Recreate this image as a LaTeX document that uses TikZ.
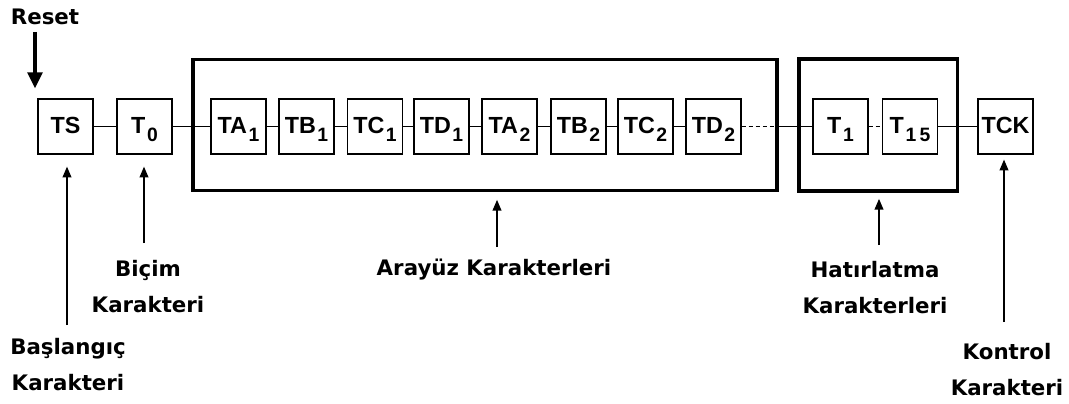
\documentclass[tikz,border=0pt]{standalone}
\usepackage{fontspec}
\setmainfont{DejaVu Sans}
\newfontfamily\cellfont{Liberation Sans}
\usetikzlibrary{arrows.meta}
% lowered index digits inside a cell
\newcommand\idx[1]{\kern1.2pt\raisebox{-6pt}{\fontsize{14.5}{14.5}\selectfont #1}}

\begin{document}
\begin{tikzpicture}[x=0.75pt,y=-0.75pt,
  cell/.style={draw, line width=0.9pt, minimum width=41.25pt, minimum height=41.25pt,
    inner sep=0pt, font=\cellfont\bfseries\fontsize{17.5}{17.5}\selectfont,
    text height=12.5pt, text depth=2.5pt},
  frame/.style={draw, line width=2.8pt, inner sep=0pt},
  link/.style={line width=0.9pt},
  dots/.style={link, dash pattern=on 3.4pt off 1.9pt},
  label/.style={font=\bfseries\fontsize{16}{27}\selectfont, align=center,
    anchor=base, inner sep=0pt},
  pointer/.style={line width=1.1pt, -{Triangle[length=8pt,width=6.5pt]}},
]
\useasboundingbox (0,0) rectangle (1069,403);

% grouping frames
\node[frame, minimum width=438pt, minimum height=98.25pt] (arayuz) at (485,125) {};
\node[frame, minimum width=118.9pt, minimum height=99pt] (hatirla) at (878.25,125) {};

% character cells
\node[cell] (TS)  at (65.5,126.5)  {TS};
\node[cell] (T0)  at (144.5,126.5) {T\idx{0}};
\node[cell] (TA1) at (238.5,126.5) {TA\idx{1}};
\node[cell] (TB1) at (306.5,126.5) {TB\idx{1}};
\node[cell] (TC1) at (375,126.5)   {TC\idx{1}};
\node[cell] (TD1) at (441.5,126.5) {TD\idx{1}};
\node[cell] (TA2) at (509.5,126.5) {TA\idx{2}};
\node[cell] (TB2) at (578.5,126.5) {TB\idx{2}};
\node[cell] (TC2) at (645.5,126.5) {TC\idx{2}};
\node[cell] (TD2) at (713.5,126.5) {TD\idx{2}};
\node[cell] (T1)  at (840.5,126.5) {T\idx{1}};
\node[cell] (T15) at (910,126.5)   {T\idx{1\kern2.5pt 5}};
\node[cell] (TCK) at (1005.5,126.5) {TCK};

% chain links
\draw[link] (TS) -- (T0);
\draw[link] (T0) -- (TA1);
\draw[link] (TA1) -- (TB1);
\draw[link] (TB1) -- (TC1);
\draw[link] (TC1) -- (TD1);
\draw[link] (TD1) -- (TA2);
\draw[link] (TA2) -- (TB2);
\draw[link] (TB2) -- (TC2);
\draw[link] (TC2) -- (TD2);
\draw[dots] (TD2) -- (TD2 -| arayuz.east);
\draw[link] (TD2 -| arayuz.east) -- (T1);
\draw[dots] (T1) -- (T15);
\draw[link] (T15) -- (TCK);

% reset input
\node[label] (reset) at (45,25) {Reset};
\coordinate (resetTail) at (35,32);
\draw[line width=2.6pt, -{Triangle[length=12pt,width=11pt]}, shorten >=7.5pt]
  (resetTail) -- (resetTail |- TS.north);

% captions (base = baseline of the last line)
\node[label] (bicim)     at (148,312) {Biçim\\Karakteri};
\node[label] (baslangic) at (68,390)  {Başlangıç\\Karakteri};
\node[label] (arayuzlbl) at (494,275) {Arayüz Karakterleri};
\node[label] (hatirlbl)  at (875,313) {Hatırlatma\\Karakterleri};
\node[label] (kontrol)   at (1007,395) {Kontrol\\Karakteri};

% caption pointers
\coordinate (pTS)  at (67,325);
\coordinate (pT0)  at (144,243);
\coordinate (pAr)  at (497,247);
\coordinate (pHa)  at (879,245);
\coordinate (pTCK) at (1004,322);
\draw[pointer, shorten >=9pt]   (pTS)  -- (pTS |- TS.south);
\draw[pointer, shorten >=9pt]   (pT0)  -- (pT0 |- T0.south);
\draw[pointer, shorten >=5.6pt] (pAr)  -- (pAr |- arayuz.south);
\draw[pointer, shorten >=4.5pt] (pHa)  -- (pHa |- hatirla.south);
\draw[pointer, shorten >=3.75pt] (pTCK) -- (pTCK |- TCK.south);
\end{tikzpicture}
\end{document}
